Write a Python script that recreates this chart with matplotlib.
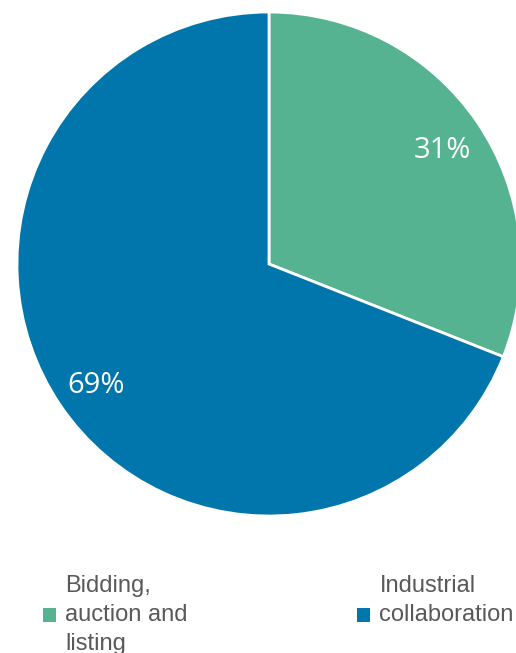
import matplotlib.pyplot as plt
from matplotlib.patches import Patch

labels = ["Bidding,\nauction and\nlisting", "Industrial\ncollaboration\n "]
shares = [31, 69]
colors = ["#56B391", "#0076AC"]

W, H = 516, 653
cx, cy, R = 269, 264, 252   # pie centre and radius in pixels (from top)

fig = plt.figure(figsize=(W / 100, H / 100), dpi=100)
ax = fig.add_axes([0, 0, 1, 1])

wedges, texts, autotexts = ax.pie(
    shares, colors=colors, startangle=90, counterclock=False, radius=1,
    autopct="%d%%", pctdistance=0.83,
    wedgeprops=dict(edgecolor="white", linewidth=2),
    textprops=dict(color="white", fontsize=21, family="Open Sans"),
)
# nudge percentage labels a few pixels down
for t in autotexts:
    x, y = t.get_position()
    t.set_position((x, y - 4 / R))

ax.set_aspect("auto")
ax.set_xlim(-cx / R, (W - cx) / R)
ax.set_ylim(-(H - cy) / R, cy / R)
ax.axis("off")

# legend: one entry per block, markers at the measured pixel spots
for wdg, lab, x0 in zip(wedges, labels, [43, 357]):
    leg = fig.legend([Patch(facecolor=wdg.get_facecolor())], [lab],
                     loc="center left", bbox_to_anchor=(x0 / W, 1 - 615 / H),
                     frameon=False, borderpad=0, borderaxespad=0,
                     handlelength=0.55, handleheight=0.55, handletextpad=0.4,
                     prop=dict(family="Liberation Sans", size=17),
                     labelcolor="#595959")
    for t in leg.get_texts():
        t.set_linespacing(1.4)

fig.savefig("out.png", dpi=100)
